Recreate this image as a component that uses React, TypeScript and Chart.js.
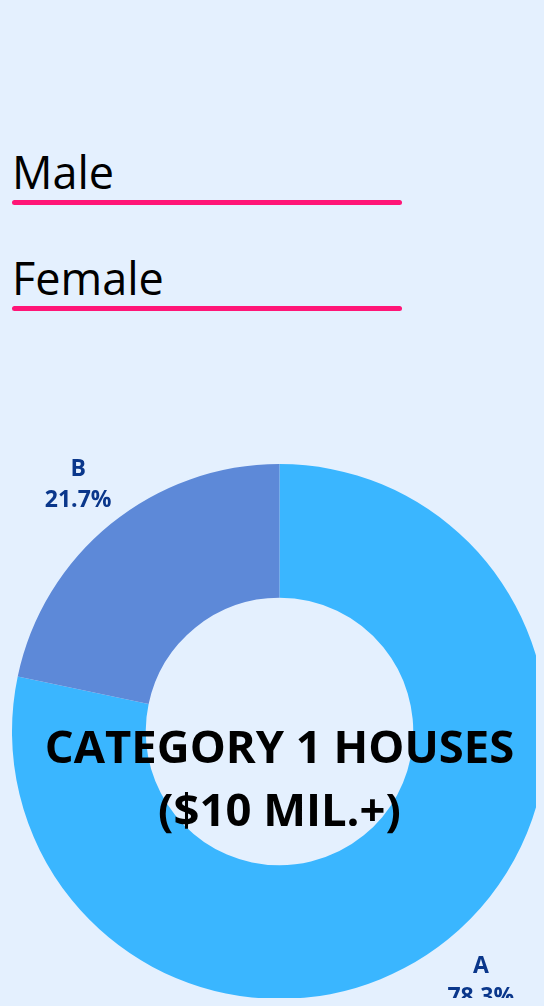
import React, { useEffect, useRef } from "react";
import { Chart, registerables } from "chart.js";

Chart.register(...registerables);

const categories = ["A", "B"];
const shares = [78.3, 21.7];
const sliceColors = ["#3AB6FF", "#5D89D8"];
const legendItems = ["Male", "Female"];
const centerLines = ["CATEGORY 1 HOUSES", "($10 MIL.+)"];

const BG = "#E4F0FE";
const FONT = "'Open Sans', 'Noto Sans', sans-serif";

const outsideLabels = {
  id: "outsideLabels",
  afterDatasetsDraw(chart: any) {
    const ctx = chart.ctx;
    const meta = chart.getDatasetMeta(0);
    const data = chart.data.datasets[0].data as number[];
    const total = data.reduce((a, b) => a + b, 0);
    ctx.save();
    ctx.fillStyle = "#0A378B";
    ctx.font = `bold 23px ${FONT}`;
    ctx.textAlign = "center";
    ctx.textBaseline = "alphabetic";
    meta.data.forEach((arc: any, i: number) => {
      const p = arc.getProps(["x", "y", "startAngle", "endAngle", "outerRadius"], true);
      const mid = (p.startAngle + p.endAngle) / 2;
      const d = p.outerRadius + 52;
      const px = p.x + Math.cos(mid) * d;
      const py = p.y + Math.sin(mid) * d;
      const pct = ((data[i] / total) * 100).toFixed(1) + "%";
      ctx.fillText(String(chart.data.labels[i]), px, py - 7);
      ctx.fillText(pct, px, py + 24);
    });
    ctx.restore();
  },
};

const centerText = {
  id: "centerText",
  afterDraw(chart: any) {
    const ctx = chart.ctx;
    const arc = chart.getDatasetMeta(0).data[0] as any;
    if (!arc) return;
    const { x, y } = arc.getProps(["x", "y"], true);
    ctx.save();
    ctx.fillStyle = "#000000";
    ctx.font = `bold 45.4px ${FONT}`;
    ctx.textAlign = "center";
    ctx.textBaseline = "alphabetic";
    ctx.fillText(centerLines[0], x, y + 31.5);
    ctx.fillText(centerLines[1], x, y + 94.5);
    ctx.restore();
  },
};

export default function App() {
  const canvasRef = useRef<HTMLCanvasElement | null>(null);

  useEffect(() => {
    document.documentElement.style.background = BG;
    document.documentElement.style.overflow = "hidden";
    document.body.style.background = BG;
    document.body.style.overflow = "hidden";
    const canvas = canvasRef.current;
    if (!canvas) return;
    const chart = new Chart(canvas, {
      type: "doughnut",
      data: {
        labels: categories,
        datasets: [
          {
            data: shares,
            backgroundColor: sliceColors,
            borderWidth: 0,
            hoverOffset: 0,
          },
        ],
      },
      options: {
        responsive: false,
        animation: false,
        cutout: "50%",
        layout: { padding: { left: 12, right: 12, top: 24, bottom: 7 } },
        plugins: {
          legend: { display: false },
          tooltip: { enabled: false },
        },
      },
      plugins: [outsideLabels, centerText],
    });
    return () => chart.destroy();
  }, []);

  return (
    <div style={{ position: "relative", width: 544, height: 1006, overflow: "hidden", background: BG, margin: -8 }}>
      {legendItems.map((name, i) => (
        <div key={name} style={{ position: "absolute", left: 12, top: 148.5 + i * 106.5, width: 390 }}>
          <div style={{ fontFamily: FONT, fontSize: 45, lineHeight: "45px", color: "#000" }}>{name}</div>
          <div style={{ marginTop: 6, height: 5, width: 390, borderRadius: 3, background: "#FF1577" }} />
        </div>
      ))}
      <canvas
        ref={canvasRef}
        width={559}
        height={566}
        style={{ position: "absolute", left: 0, top: 440, width: 559, height: 566 }}
      />
    </div>
  );
}
